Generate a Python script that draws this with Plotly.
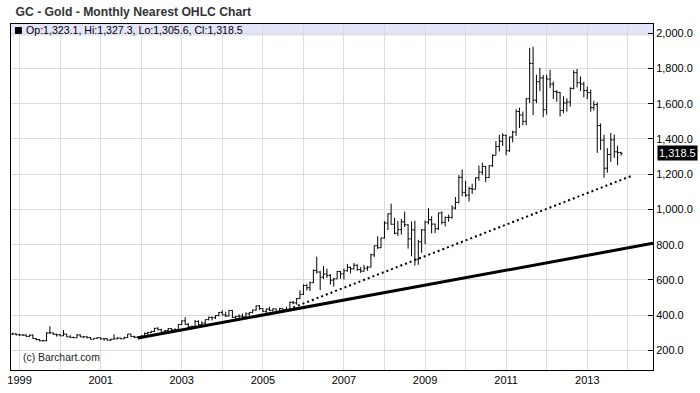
import pandas as pd
import plotly.graph_objects as go

# ---------------- data ----------------
start_month = "1998-11-01"

opens = [
    292, 294,
    289, 288, 287, 280, 287, 268, 262, 255, 255, 299, 300, 292,
    289, 283, 293, 277, 274, 272, 288, 277, 278, 273, 264, 269,
    272, 266, 267, 258, 264, 266, 270, 266, 273, 293, 279, 275,
    279, 282, 297, 302, 308, 326, 318, 304, 313, 324, 317, 318,
    347, 368, 348, 334, 337, 364, 346, 355, 375, 388, 386, 398,
    416, 402, 396, 427, 388, 394, 395, 391, 408, 416, 429, 453,
    438, 422, 435, 428, 436, 417, 437, 430, 433, 473, 470, 495,
    518, 569, 556, 584, 654, 645, 616, 634, 626, 599, 606, 648,
    635, 652, 672, 663, 683, 659, 650, 667, 673, 743, 794, 783,
    838, 923, 975, 916, 865, 886, 930, 913, 833, 884, 718, 816,
    884, 928, 942, 917, 891, 980, 927, 955, 955, 1008, 1040, 1182,
    1097, 1081, 1118, 1115, 1180, 1212, 1244, 1181, 1248, 1307, 1357, 1387,
    1421, 1333, 1411, 1439, 1556, 1536, 1500, 1628, 1829, 1620, 1725, 1746,
    1566, 1740, 1711, 1669, 1664, 1561, 1604, 1610, 1687, 1776, 1719, 1712,
    1675, 1663, 1578, 1595, 1476, 1393, 1234, 1312, 1395, 1327, 1323.1,
]
highs = [
    301, 298,
    294, 292, 292, 289, 291, 269, 265, 260, 303, 338, 302, 295,
    293, 316, 294, 287, 278, 293, 291, 280, 280, 275, 270, 276,
    273, 270, 268, 266, 292, 275, 272, 279, 294, 294, 284, 282,
    288, 302, 305, 312, 327, 332, 323, 316, 328, 326, 326, 349,
    371, 389, 356, 341, 373, 372, 365, 376, 392, 392, 400, 418,
    428, 420, 429, 429, 396, 405, 410, 416, 417, 432, 456, 458,
    440, 438, 448, 439, 437, 442, 439, 448, 478, 481, 497, 541,
    575, 576, 591, 659, 732, 650, 679, 664, 633, 612, 651, 650,
    665, 691, 675, 696, 689, 673, 686, 680, 748, 796, 848, 840,
    934, 977, 1033, 953, 935, 946, 988, 916, 932, 936, 828, 889,
    937, 1007, 961, 920, 981, 990, 960, 971, 1024, 1071, 1195, 1227,
    1163, 1129, 1146, 1182, 1249, 1265, 1246, 1251, 1314, 1388, 1424, 1432,
    1424, 1413, 1447, 1569, 1578, 1556, 1632, 1917, 1923, 1765, 1804, 1763,
    1764, 1792, 1726, 1677, 1667, 1642, 1631, 1693, 1790, 1797, 1755, 1725,
    1697, 1681, 1617, 1608, 1488, 1424, 1348, 1434, 1425, 1362, 1327.3,
]
lows = [
    289, 285,
    283, 283, 278, 278, 266, 256, 252, 251, 253, 294, 288, 279,
    281, 282, 276, 274, 271, 271, 276, 270, 268, 263, 263, 268,
    262, 255, 257, 254, 264, 265, 264, 265, 271, 276, 270, 272,
    277, 281, 288, 298, 306, 314, 301, 301, 310, 311, 314, 317,
    344, 345, 322, 319, 336, 342, 341, 351, 371, 370, 378, 394,
    399, 390, 393, 385, 372, 383, 385, 387, 397, 411, 425, 430,
    419, 412, 424, 421, 414, 414, 418, 430, 433, 462, 460, 491,
    515, 540, 537, 583, 637, 543, 605, 612, 574, 562, 606, 608,
    603, 648, 637, 660, 652, 640, 648, 652, 672, 731, 776, 781,
    835, 883, 914, 860, 850, 858, 900, 778, 735, 681, 686, 754,
    802, 916, 865, 866, 884, 915, 904, 931, 948, 1000, 1034, 1075,
    1072, 1045, 1088, 1114, 1163, 1196, 1155, 1179, 1242, 1308, 1329, 1360,
    1308, 1327, 1381, 1418, 1462, 1478, 1478, 1604, 1535, 1603, 1671, 1523,
    1538, 1688, 1627, 1611, 1527, 1546, 1555, 1584, 1682, 1692, 1672, 1636,
    1626, 1555, 1562, 1321, 1338, 1180, 1208, 1270, 1292, 1251, 1305.6,
]
closes = [
    294, 289,
    288, 287, 280, 287, 268, 262, 255, 255, 299, 300, 292, 289,
    283, 293, 277, 274, 272, 288, 277, 278, 273, 264, 269, 272,
    266, 267, 258, 264, 266, 270, 266, 273, 293, 279, 275, 279,
    282, 297, 302, 308, 326, 318, 304, 313, 324, 317, 318, 347,
    368, 348, 334, 337, 364, 346, 355, 375, 388, 386, 398, 416,
    402, 396, 427, 388, 394, 395, 391, 408, 416, 429, 453, 438,
    422, 435, 428, 436, 417, 437, 430, 433, 473, 470, 495, 518,
    569, 556, 584, 654, 645, 616, 634, 626, 599, 606, 648, 635,
    652, 672, 663, 683, 659, 650, 667, 673, 743, 794, 783, 838,
    923, 975, 916, 865, 886, 930, 913, 833, 884, 718, 816, 884,
    928, 942, 917, 891, 980, 927, 955, 955, 1008, 1040, 1182, 1097,
    1081, 1118, 1115, 1180, 1212, 1244, 1181, 1248, 1307, 1357, 1387, 1421,
    1333, 1411, 1439, 1556, 1536, 1500, 1628, 1829, 1620, 1725, 1746, 1566,
    1740, 1711, 1669, 1664, 1561, 1604, 1610, 1687, 1776, 1719, 1712, 1675,
    1663, 1578, 1595, 1476, 1393, 1234, 1312, 1395, 1327, 1323.1, 1318.5,
]

# trend lines (date, price)
support_dates = ["2001-12-01", "2014-08-16"]
support_values = [271, 808]
channel_dates = ["2005-10-01", "2014-02-01"]
channel_values = [444, 1190]

year_ticks = list(range(1999, 2015))
price_ticks = [200, 400, 600, 800, 1000, 1200, 1400, 1600, 1800, 2000]

title_text = "GC - Gold - Monthly Nearest OHLC Chart"
legend_text = "Op:1,323.1, Hi:1,327.3, Lo:1,305.6, Cl:1,318.5"
last_price = 1318.5

# ---------------- figure ----------------
FONT = "Liberation Sans, Arial, sans-serif"
dates = pd.date_range(start_month, periods=len(closes), freq="MS")

fig = go.Figure()
fig.add_trace(go.Ohlc(
    x=dates, open=opens, high=highs, low=lows, close=closes,
    increasing=dict(line=dict(color="black", width=1)),
    decreasing=dict(line=dict(color="black", width=1)),
    tickwidth=0.5, showlegend=False, hoverinfo="skip",
))
fig.add_trace(go.Scatter(
    x=pd.to_datetime(support_dates), y=support_values, mode="lines",
    line=dict(color="black", width=3), showlegend=False, hoverinfo="skip",
))
fig.add_trace(go.Scatter(
    x=pd.to_datetime(channel_dates), y=channel_values, mode="lines",
    line=dict(color="black", width=2, dash="2px,3px"), showlegend=False,
    hoverinfo="skip",
))

y_lo, y_hi = 89.2, 2052.3
band_bottom = 1985

fig.add_shape(type="rect", xref="paper", x0=0, x1=1, yref="y",
              y0=band_bottom, y1=y_hi, fillcolor="#e4e4fb",
              line=dict(width=0), layer="between")
# black square of legend
fig.add_shape(type="rect", xref="paper", yref="paper",
              x0=(11 - 7) / 648.6, x1=(18 - 7) / 648.6,
              y0=(373 - 34) / 349, y1=(373 - 27) / 349,
              fillcolor="black", line=dict(width=0), layer="above")

fig.update_layout(
    width=700, height=393,
    margin=dict(l=7, r=44, t=24, b=20),
    paper_bgcolor="white", plot_bgcolor="white",
    font=dict(family=FONT, size=11, color="black"),
    title=dict(text="<b>" + title_text + "</b>", x=0.007, xanchor="left",
               y=1 - 12 / 393, yanchor="middle", xref="paper",
               font=dict(family=FONT, size=12.2, color="#333333")),
    xaxis=dict(
        type="date",
        range=["1998-10-16", "2014-08-16"],
        tickvals=[pd.Timestamp(f"{y}-01-01") for y in year_ticks],
        ticktext=[str(y) if y % 2 == 1 else "" for y in year_ticks],
        showgrid=True, gridcolor="#dcdcdc", gridwidth=1,
        showline=True, linecolor="black", linewidth=1, mirror=True,
        ticks="", rangeslider=dict(visible=False),
        tickfont=dict(size=11, color="black"),
        fixedrange=True,
    ),
    yaxis=dict(
        side="right", range=[y_lo, y_hi],
        tickvals=price_ticks, tickformat=",.1f",
        showgrid=True, gridcolor="#dcdcdc", gridwidth=1,
        showline=True, linecolor="black", linewidth=1, mirror=True,
        ticks="inside", ticklen=5, tickcolor="black",
        tickfont=dict(size=11, color="black"),
        zeroline=False, fixedrange=True,
    ),
    annotations=[
        dict(text=legend_text, xref="paper", yref="paper",
             x=(20.5 - 7) / 648.6, y=(373 - 30.5) / 349,
             xanchor="left", yanchor="middle", showarrow=False,
             font=dict(size=10.6, color="black")),
        dict(text="(c) Barchart.com", xref="paper", yref="paper",
             x=(17 - 7) / 648.6, y=(373 - 360.5) / 349,
             xanchor="left", yanchor="middle", showarrow=False,
             font=dict(size=10.4, color="#222222")),
        dict(text=f"{last_price:,.1f}", xref="paper", yref="y",
             x=1, y=last_price, xanchor="left", yanchor="middle",
             xshift=4, showarrow=False, bgcolor="black", borderpad=1,
             font=dict(size=11, color="white")),
    ],
)

fig.write_html(
    "out.html",
    config={"displayModeBar": False, "staticPlot": True},
    post_script="document.body.style.margin='0px';"
                "document.body.style.overflow='hidden';",
)
